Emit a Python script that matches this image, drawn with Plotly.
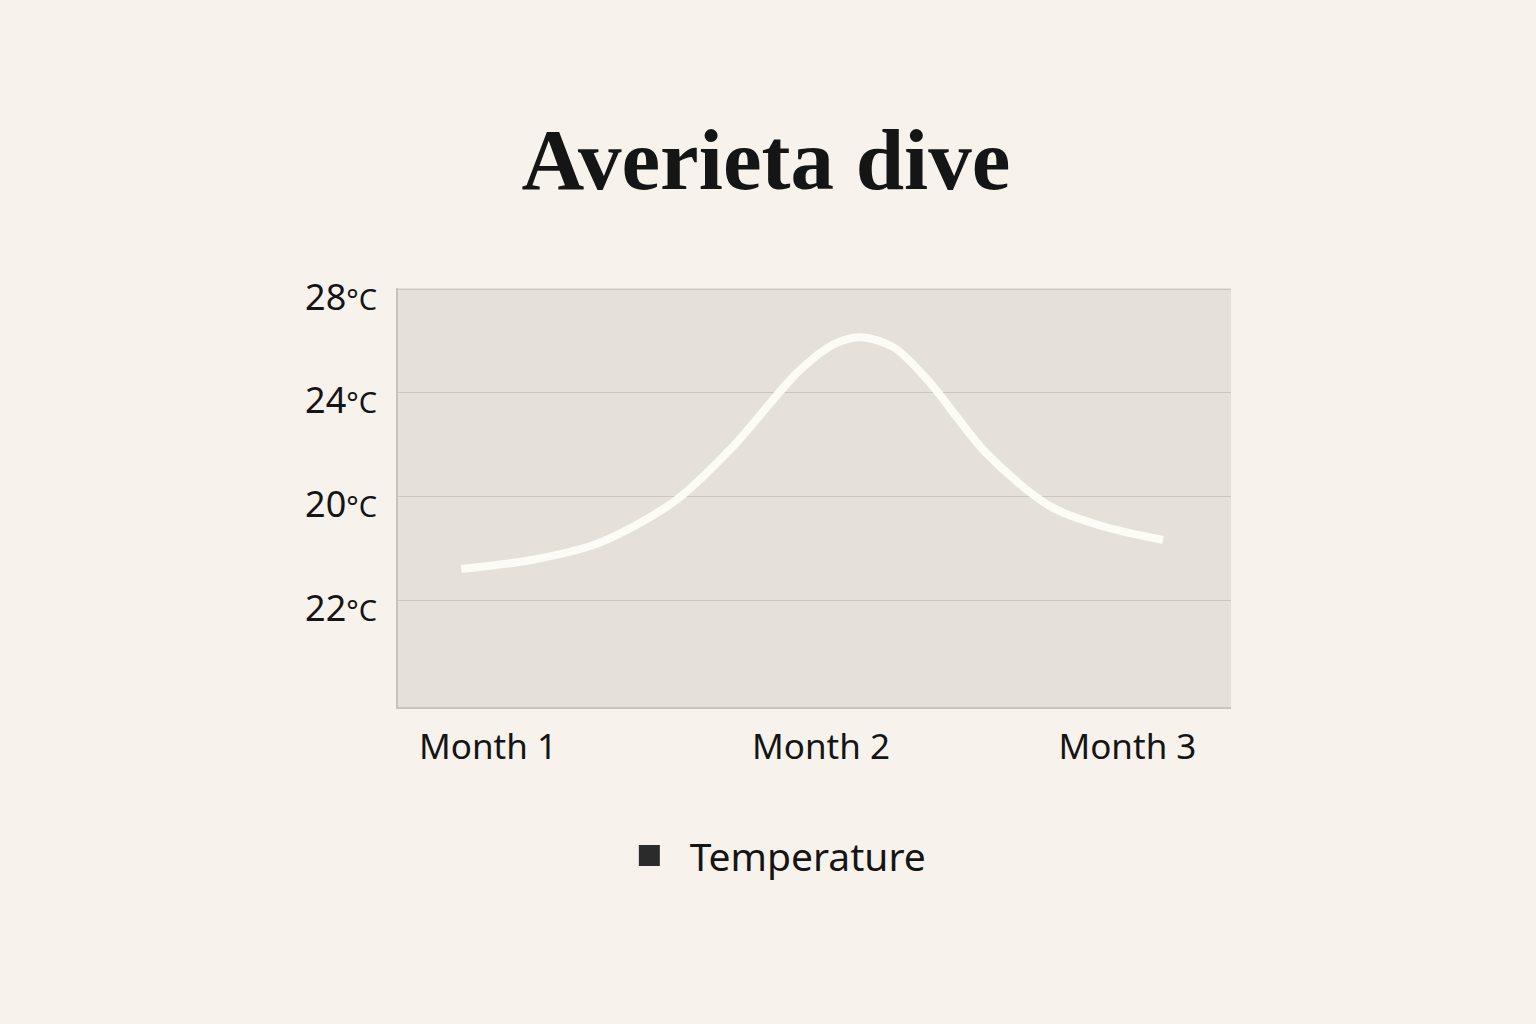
import plotly.graph_objects as go

# ---- data ----
months = [0.920, 1.130, 1.330, 1.561, 1.730, 1.931, 2.036, 2.117, 2.216, 2.317, 2.498, 2.688, 2.838, 3.027]
temps = [17.20, 17.55, 18.19, 19.82, 21.85, 24.80, 25.85, 26.14, 25.77, 24.54, 21.65, 19.62, 18.88, 18.32]

x_tick_vals = [1.0, 2.0, 2.92]
x_tick_text = ["Month 1", "Month 2", "Month 3"]

y_tick_vals = [28, 24, 20, 16]
y_tick_nums = ["28", "24", "20", "22"]
y_unit = "°C"

series_name = "Temperature"
title_text = "Averieta dive"

PAPER = "#f7f3ec"
PLOT = "#e5e0d9"
GRID = "#cbc6bf"
LINE = "#fdfbf6"
INK = "#151515"

y_tick_text = [n + "<span style='font-size:29px'>" + y_unit + "</span>" for n in y_tick_nums]

fig = go.Figure()
fig.add_trace(go.Scatter(
    x=months, y=temps, mode="lines",
    line=dict(color=LINE, width=8, shape="spline", smoothing=0.9),
    showlegend=False, hoverinfo="skip",
))
# legend entry (square swatch)
fig.add_trace(go.Scatter(
    x=[None], y=[None], mode="markers", name="\u00a0\u00a0" + series_name,
    marker=dict(symbol="square", size=16, color="#2b2b2b",
                line=dict(color="#2b2b2b", width=5)),
))

sans = "Noto Sans, Open Sans, sans-serif"

fig.update_layout(
    width=1536, height=1024,
    paper_bgcolor=PAPER, plot_bgcolor=PLOT,
    margin=dict(l=398, r=305, t=288, b=317),
    title=dict(
        text="<b>" + title_text + "</b>",
        x=0.4987, xref="container", xanchor="center",
        y=0.845, yref="container", yanchor="middle",
        font=dict(family="Liberation Serif, DejaVu Serif, serif", size=87, color=INK),
    ),
    xaxis=dict(
        range=[0.73, 3.231],
        tickvals=x_tick_vals, ticktext=x_tick_text,
        showgrid=False, zeroline=False,
        showline=True, linecolor="#c8c3bc", linewidth=1.5,
        ticks="", ticklabelstandoff=8,
        tickfont=dict(family=sans, size=35, color=INK),
    ),
    yaxis=dict(
        range=[11.88, 28.04],
        tickvals=y_tick_vals, ticktext=y_tick_text,
        showgrid=True, gridcolor=GRID, gridwidth=1.3,
        zeroline=False,
        showline=True, linecolor="#c8c3bc", linewidth=1.5,
        ticks="", ticklabelstandoff=12, ticklabelshift=8,
        tickfont=dict(family=sans, size=36, color=INK),
    ),
    legend=dict(
        orientation="h", x=0.459, xanchor="center",
        y=-0.355, yanchor="middle",
        font=dict(family=sans, size=39, color=INK),
        bgcolor="rgba(0,0,0,0)",
    ),
    showlegend=True,
)

fig.write_html("out.html", config={"displayModeBar": False},
               post_script="document.body.style.margin='0px';")
